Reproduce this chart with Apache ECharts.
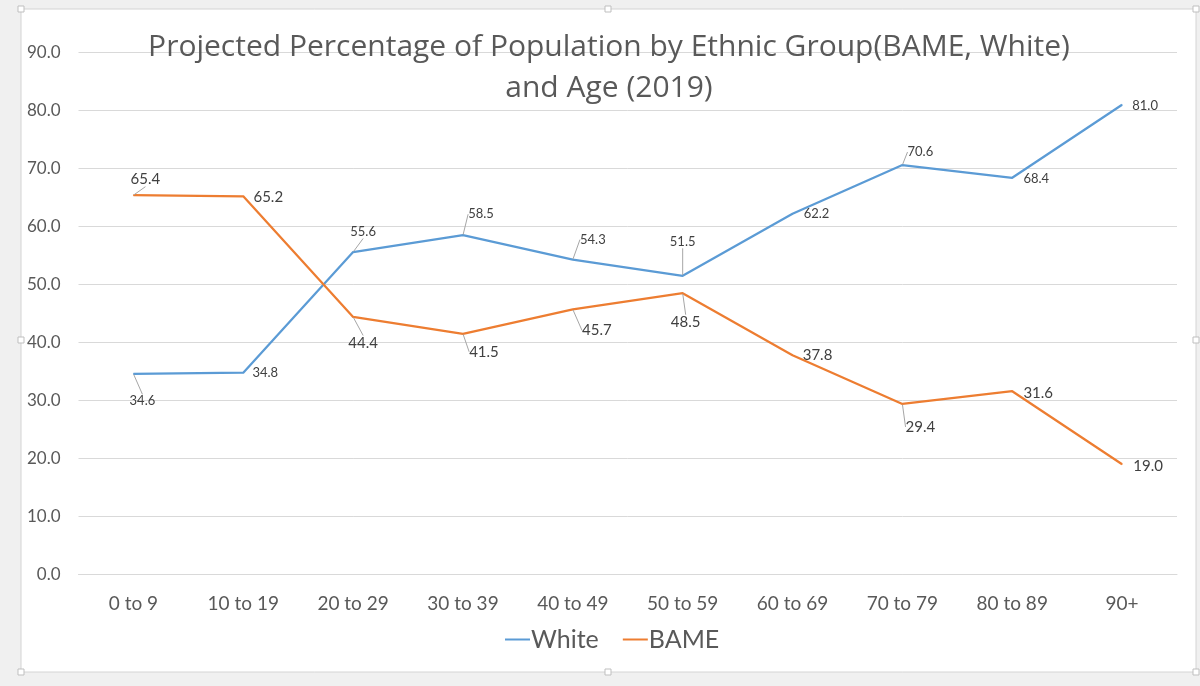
<!DOCTYPE html>
<html>
<head>
<meta charset="utf-8">
<script src="https://cdn.jsdelivr.net/npm/echarts@6/dist/echarts.min.js"></script>
<style>
html,body{margin:0;padding:0;background:#f0f0f0;}
#c{width:1200px;height:686px;}
</style>
</head>
<body>
<div id="c"></div>
<script>
const categories = ['0 to 9','10 to 19','20 to 29','30 to 39','40 to 49','50 to 59','60 to 69','70 to 79','80 to 89','90+'];
const whiteValues = [34.6, 34.8, 55.6, 58.5, 54.3, 51.5, 62.2, 70.6, 68.4, 81.0];
const bameValues = [65.4, 65.2, 44.4, 41.5, 45.7, 48.5, 37.8, 29.4, 31.6, 19.0];
const yTicks = {min: 0, max: 90, interval: 10};

// label placement relative to the point (style, not data)
const whiteLabelOffset = [[9,27],[22,0],[10,-20],[18,-21],[20,-20],[0,-34],[24,0],[18,-13],[24,1],[23,1]];
const whiteLeader = [true,false,true,true,true,true,false,true,false,false];
const bameLabelOffset = [[12,-16],[25,1],[10,26],[21,18],[24,21],[3,29],[25,0],[18,23],[26,2],[26,2]];
const bameLeader = [true,false,true,true,true,true,false,true,false,false];

function buildData(values, leaders){
  return values.map((v,i)=>({value:v, labelLine:{show:leaders[i]}}));
}

const chart = echarts.init(document.getElementById('c'));
const textColor = '#595959';
chart.setOption({
  backgroundColor: '#f0f0f0',
  animation: false,
  graphic: [
    {type:'rect', shape:{x:21,y:9,width:1175,height:663}, style:{fill:'#ffffff', stroke:'#d4d4d4', lineWidth:1}, z:-10, silent:true},
    {type:'rect', shape:{x:18,y:6,width:6,height:6}, style:{fill:'#fff', stroke:'#bfbfbf'}, z:-9},
    {type:'rect', shape:{x:605,y:6,width:6,height:6}, style:{fill:'#fff', stroke:'#bfbfbf'}, z:-9},
    {type:'rect', shape:{x:1193,y:6,width:6,height:6}, style:{fill:'#fff', stroke:'#bfbfbf'}, z:-9},
    {type:'rect', shape:{x:18,y:337,width:6,height:6}, style:{fill:'#fff', stroke:'#bfbfbf'}, z:-9},
    {type:'rect', shape:{x:1193,y:337,width:6,height:6}, style:{fill:'#fff', stroke:'#bfbfbf'}, z:-9},
    {type:'rect', shape:{x:18,y:669,width:6,height:6}, style:{fill:'#fff', stroke:'#bfbfbf'}, z:-9},
    {type:'rect', shape:{x:605,y:669,width:6,height:6}, style:{fill:'#fff', stroke:'#bfbfbf'}, z:-9},
    {type:'rect', shape:{x:1193,y:669,width:6,height:6}, style:{fill:'#fff', stroke:'#bfbfbf'}, z:-9}
  ],
  title: {
    text: 'Projected Percentage of Population by Ethnic Group(BAME, White)\nand Age (2019)',
    left: 604, top: 22, textAlign: 'center',
    textStyle: {fontFamily:'Open Sans', fontSize: 30, fontWeight: 'normal', color: textColor, lineHeight: 41}
  },
  legend: {
    bottom: 29, left: 500,
    itemWidth: 25, itemHeight: 2, itemGap: 24,
    icon: 'rect',
    textStyle: {fontFamily:'Lato', fontSize: 25, color: textColor, padding:[0,0,0,-4]},
    data: ['White','BAME']
  },
  grid: {left: 78.5, right: 23, top: 52.5, bottom: 111.5},
  xAxis: {
    type: 'category', data: categories, boundaryGap: true,
    axisLine: {show: true, lineStyle:{color:'#d9d9d9'}},
    axisTick: {show:false},
    axisLabel: {fontFamily:'Lato', fontSize: 19, color: textColor, margin: 20}
  },
  yAxis: {
    type: 'value', min: yTicks.min, max: yTicks.max, interval: yTicks.interval,
    axisLine: {show:false}, axisTick:{show:false},
    axisLabel: {fontFamily:'Lato', fontSize: 17, color: textColor, margin: 18, formatter: v => v.toFixed(1)},
    splitLine: {lineStyle:{color:'#d9d9d9', width:1}}
  },
  series: [
    {
      name: 'White', type: 'line', data: buildData(whiteValues, whiteLeader),
      color: '#5b9bd5', symbol: 'circle', symbolSize: 1,
      lineStyle: {width: 2.25, color:'#5b9bd5'},
      label: {show:true, position:'inside', fontFamily:'Lato', fontSize:13, color:'#404040', formatter: p => p.value.toFixed(1)},
      labelLine: {show:true, lineStyle:{color:'#a6a6a6', width:1}},
      labelLayout: p => ({dx: whiteLabelOffset[p.dataIndex][0], dy: whiteLabelOffset[p.dataIndex][1]})
    },
    {
      name: 'BAME', type: 'line', data: buildData(bameValues, bameLeader),
      color: '#ed7d31', symbol: 'circle', symbolSize: 1,
      lineStyle: {width: 2.25, color:'#ed7d31'},
      label: {show:true, position:'inside', fontFamily:'Lato', fontSize:15, color:'#404040', formatter: p => p.value.toFixed(1)},
      labelLine: {show:true, lineStyle:{color:'#a6a6a6', width:1}},
      labelLayout: p => ({dx: bameLabelOffset[p.dataIndex][0], dy: bameLabelOffset[p.dataIndex][1]})
    }
  ]
});
</script>
</body>
</html>
